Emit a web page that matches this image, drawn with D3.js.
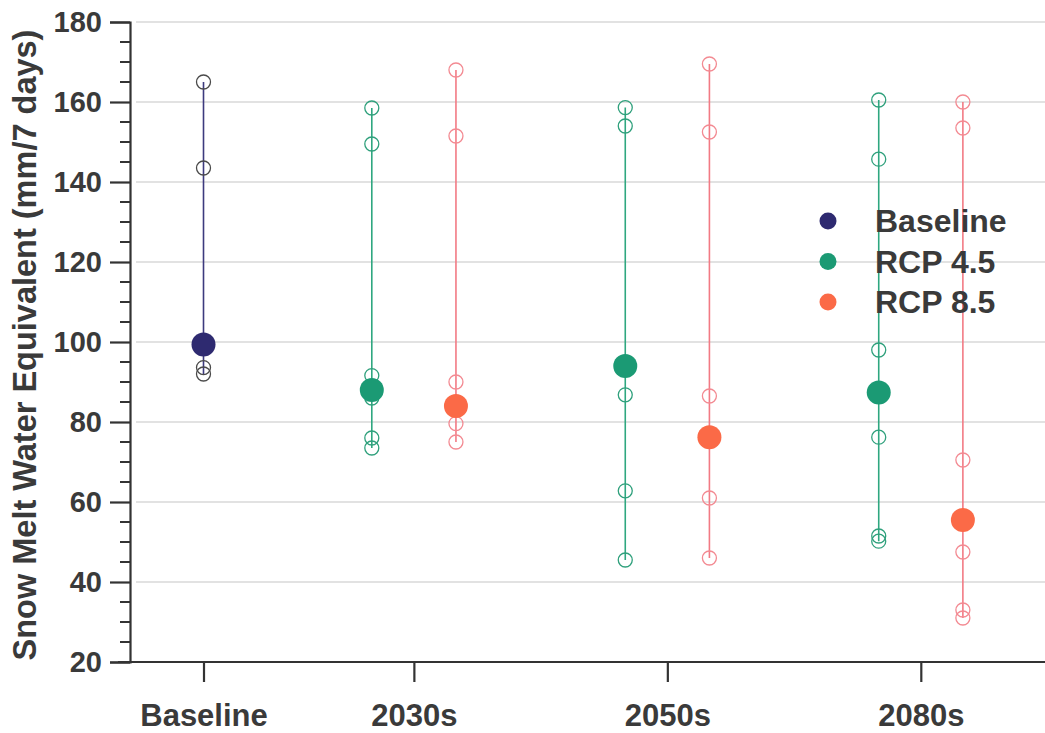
<!DOCTYPE html>
<html>
<head>
<meta charset="utf-8">
<script src="https://cdn.jsdelivr.net/npm/d3@7"></script>
<style>
  html, body { margin: 0; padding: 0; background: #ffffff; }
  svg { display: block; font-family: "Liberation Sans", Arial, sans-serif; }
</style>
</head>
<body>
<svg id="chart" width="1045" height="733"></svg>
<script>
// ---- data ----
const categories = ["Baseline", "2030s", "2050s", "2080s"];
const categoryPos = [1.17, 2, 3, 4];          // position of each category on the x axis
const seriesNames = ["Baseline", "RCP 4.5", "RCP 8.5"];
const seriesColors = ["#2e2a70", "#1b9a74", "#fb6a47"];
const seriesLineColors = ["#3d3a7e", "#2fa780", "#f27a84"];
const seriesOpenColors = ["#4a4a4a", "#2fa07c", "#f38a92"];

// Baseline period (single group)
const baselineMembers = [165, 143.5, 93.6, 92];
const baselineCentral = [99.4];

// RCP 4.5 (2030s, 2050s, 2080s)
const rcp45Members = [
  [158.5, 149.5, 91.6, 86, 76, 73.5],
  [158.6, 154, 86.8, 62.8, 45.5],
  [160.5, 145.7, 98, 76.2, 51.5, 50.2]
];
const rcp45Central = [88, 94, 87.4];

// RCP 8.5 (2030s, 2050s, 2080s)
const rcp85Members = [
  [168, 151.5, 90, 79.6, 75],
  [169.5, 152.5, 86.5, 61, 46],
  [160, 153.5, 70.5, 47.5, 33, 31]
];
const rcp85Central = [84, 76.2, 55.5];

const yTicks = [20, 40, 60, 80, 100, 120, 140, 160, 180];
const yTitle = "Snow Melt Water Equivalent (mm/7 days)";

// ---- layout ----
const W = 1045, H = 733;
const margin = { left: 130, right: 0, top: 22, bottom: 71 };
const svg = d3.select("#chart");

const x = d3.scaleLinear().domain([0.88, 4.49]).range([margin.left, W - margin.right]);
const y = d3.scaleLinear().domain([20, 180]).range([H - margin.bottom, margin.top]);
const dodge = 0.166;

// gridlines
svg.append("g").selectAll("line").data(yTicks.filter(d => d > 20)).join("line")
  .attr("x1", margin.left + 6).attr("x2", W)
  .attr("y1", d => y(d)).attr("y2", d => y(d))
  .attr("stroke", "#e2e2e2").attr("stroke-width", 2);

// build groups
const groups = [];
groups.push({ s: 0, x: categoryPos[0], members: baselineMembers, central: baselineCentral[0] });
for (let i = 0; i < 3; i++) {
  groups.push({ s: 1, x: categoryPos[i + 1] - dodge, members: rcp45Members[i], central: rcp45Central[i] });
  groups.push({ s: 2, x: categoryPos[i + 1] + dodge, members: rcp85Members[i], central: rcp85Central[i] });
}

const gMarks = svg.append("g");
groups.forEach(g => {
  const gx = x(g.x);
  const ext = d3.extent(g.members.concat([g.central]));
  gMarks.append("line")
    .attr("x1", gx).attr("x2", gx)
    .attr("y1", y(ext[0])).attr("y2", y(ext[1]))
    .attr("stroke", seriesLineColors[g.s]).attr("stroke-width", 1.6);
  gMarks.selectAll(null).data(g.members).join("circle")
    .attr("cx", gx).attr("cy", d => y(d)).attr("r", 7)
    .attr("fill", "none").attr("stroke", seriesOpenColors[g.s]).attr("stroke-width", 1.3);
  gMarks.append("circle")
    .attr("cx", gx).attr("cy", y(g.central)).attr("r", 12)
    .attr("fill", seriesColors[g.s]);
});

// y axis
const yAxis = d3.axisLeft(y).tickValues(yTicks).tickSize(20).tickPadding(8).tickFormat(d3.format("d"));
const gy = svg.append("g").attr("transform", `translate(${margin.left},0)`).call(yAxis);
gy.select(".domain").attr("stroke", "#333").attr("stroke-width", 2.2);
gy.selectAll(".tick line").attr("stroke", "#333").attr("stroke-width", 2.2);
gy.selectAll(".tick text").attr("fill", "#3a3a3a").attr("font-size", 29).attr("font-weight", "bold")
  .attr("font-family", "Liberation Sans, Arial, sans-serif");
// minor ticks
const minor = d3.range(20, 181, 5).filter(v => v % 20 !== 0);
svg.append("g").selectAll("line").data(minor).join("line")
  .attr("x1", margin.left - 10).attr("x2", margin.left)
  .attr("y1", d => y(d)).attr("y2", d => y(d))
  .attr("stroke", "#333").attr("stroke-width", 2);

// x axis
const xAxis = d3.axisBottom(x).tickValues(categoryPos).tickSize(20).tickPadding(22)
  .tickFormat((d, i) => categories[i]);
const gx = svg.append("g").attr("transform", `translate(0,${y(20)})`).call(xAxis);
gx.select(".domain").attr("d", `M${margin.left - 12},0H${W}`).attr("stroke", "#333").attr("stroke-width", 2.2);
gx.selectAll(".tick line").attr("stroke", "#333").attr("stroke-width", 2.2);
gx.selectAll(".tick text").attr("fill", "#3a3a3a").attr("font-size", 31).attr("font-weight", "bold")
  .attr("font-family", "Liberation Sans, Arial, sans-serif");

// y title
svg.append("text")
  .attr("transform", `translate(36,${(margin.top + H - margin.bottom) / 2 + 3}) rotate(-90)`)
  .attr("text-anchor", "middle")
  .attr("font-size", 32.5).attr("font-weight", "bold").attr("fill", "#3a3a3a")
  .text(yTitle);

// legend
const legend = svg.append("g").attr("transform", "translate(828,221)");
seriesNames.forEach((name, i) => {
  const row = legend.append("g").attr("transform", `translate(0,${i * 40.5})`);
  row.append("circle").attr("r", 8.5).attr("fill", seriesColors[i]);
  row.append("text").attr("x", 47).attr("y", 11)
    .attr("font-size", 32).attr("font-weight", "bold").attr("fill", "#3a3a3a")
    .text(name);
});
</script>
</body>
</html>
